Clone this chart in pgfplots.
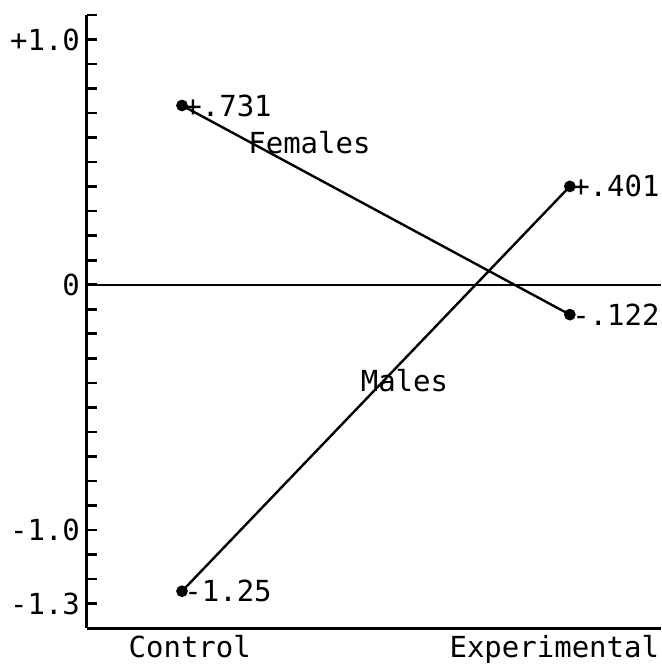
\documentclass[border=0pt]{standalone}
\usepackage{fontspec}
\setmainfont{DejaVu Sans Mono}
\usepackage{pgfplots}
\pgfplotsset{compat=1.18}
\begin{document}
\begin{tikzpicture}[x=0.5pt,y=0.5pt]
\path[use as bounding box] (-87,-38) rectangle (574,628);
\begin{axis}[
    at={(0,0)}, anchor=south west,
    scale only axis,
    width=287pt, height=306.5pt,
    xmin=-0.245, xmax=1.235,
    ymin=-1.4, ymax=1.1,
    axis lines*=left,
    axis line style={line width=1.5pt, -},
    clip=false,
    font=\fontsize{14.5}{16}\selectfont,
    tick align=inside,
    major tick length=5pt,
    tick style={line width=1.3pt, black},
    ytick={-1.3,-1.2,-1.1,-1.0,-0.9,-0.8,-0.7,-0.6,-0.5,-0.4,-0.3,-0.2,-0.1,0,0.1,0.2,0.3,0.4,0.5,0.6,0.7,0.8,0.9,1.0,1.1},
    yticklabels={-1.3,,,-1.0,,,,,,,,,,0,,,,,,,,,,+1.0,},
    xtick={0.02,0.96},
    xticklabels={Control,Experimental},
    xtick style={draw=none},
    every tick label/.append style={font=\fontsize{14.5}{16}\selectfont},
]
% zero reference line
\addplot[black, line width=1.2pt] coordinates {(-0.245,0) (1.235,0)};
% Females
\addplot[black, line width=1.2pt, mark=*, mark size=2.3pt] coordinates {(0,0.731) (1,-0.122)};
% Males
\addplot[black, line width=1.2pt, mark=*, mark size=2.3pt] coordinates {(0,-1.25) (1,0.401)};
\node[anchor=west, inner sep=1pt] at (axis cs:0,0.731) {+.731};
\node[anchor=west, inner sep=1pt] at (axis cs:1,-0.122) {-.122};
\node[anchor=west, inner sep=1pt] at (axis cs:1,0.401) {+.401};
\node[anchor=west, inner sep=1pt] at (axis cs:0,-1.25) {-1.25};
\node[anchor=west, inner sep=0pt] at (axis cs:0.17,0.58) {Females};
\node[anchor=west, inner sep=0pt] at (axis cs:0.46,-0.39) {Males};
\end{axis}
\end{tikzpicture}
\end{document}
